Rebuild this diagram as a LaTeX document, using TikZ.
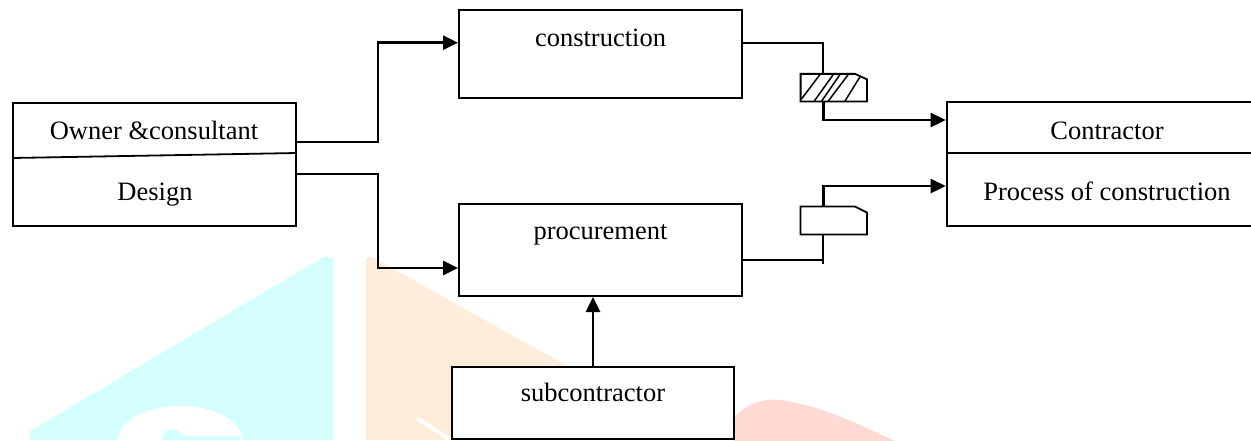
\documentclass[tikz,border=0pt]{standalone}
\usepackage{fontspec}
\setmainfont{Liberation Serif}
\usetikzlibrary{arrows.meta}
\definecolor{wmcyan}{RGB}{213,255,255}
\definecolor{wmorange}{RGB}{255,237,219}
\definecolor{wmred}{RGB}{255,217,211}
\begin{document}
\begin{tikzpicture}[x=1pt,y=-1pt,
  box/.style={draw,fill=white,line width=2pt,inner sep=0pt,rectangle},
  lbl/.style={anchor=base,inner sep=0pt,font=\fontsize{26.5}{30}\selectfont},
  conn/.style={line width=2.6pt},
  thinline/.style={line width=1.8pt},
  hatchline/.style={line width=1.5pt},
  tip/.style={-{Triangle[length=15pt,width=14pt]}},
  symb/.style={inner sep=0pt,minimum width=66,draw=none}]
\useasboundingbox (0,0) rectangle (1251,440);
\clip (0,0) rectangle (1251,440);
% watermark
\fill[wmcyan] (30,440) -- (30,431) -- (325,256) -- (333,259) -- (333,440) -- cycle;
\fill[white] (118,440) arc[start angle=180,end angle=0,x radius=62,y radius=-34] -- cycle;
\fill[wmcyan] (162,440) -- (162,436) .. controls (165,430) and (170,429) .. (173,429) .. controls (177,429) and (180,433) .. (183,436) -- (240,436) -- (240,440) -- cycle;
\fill[wmorange] (366,440) -- (366,259) -- (370,256) -- (700,440) -- cycle;
\draw[white,line width=4pt] (417,418) -- (452,441);
\fill[wmred] (734,418) .. controls (745,405) and (760,398) .. (780,400) .. controls (820,405) and (860,425) .. (895,441) -- (734,441) -- cycle;
% boxes
\node[box,minimum width=283,minimum height=123] (owner) at (154.5,164.5) {};
\node[box,minimum width=283,minimum height=88] (construction) at (600.5,54) {};
\node[box,minimum width=283,minimum height=92] (procurement) at (600.5,250) {};
\node[box,minimum width=282.6,minimum height=72] (subcontractor) at (593,403) {};
\node[box,minimum width=322,minimum height=123.4] (contractor) at (1107.7,164) {};
\draw[thinline] ([yshift=6.5pt]owner.west) -- ([yshift=11.5pt]owner.east);
\draw[thinline] ([yshift=11pt]contractor.west) -- ([yshift=11pt]contractor.east);
% texts
\node[lbl] (ownerT) at (154,139) {Owner \&consultant};
\node[lbl] (designT) at (155,200) {Design};
\node[lbl] (constrT) at (600.5,46.7) {construction};
\node[lbl] (procT) at (600.5,239) {procurement};
\node[lbl] (subT) at (593,401.7) {subcontractor};
\node[lbl] (contrT) at (1107,139) {Contractor};
\node[lbl] (processT) at (1107,200) {Process of construction};
% small symbols
\node[symb,minimum height=27.3] (hatch) at (833.8,87.7) {};
\draw[thinline,fill=white] (hatch.north west) -- ([xshift=-12pt]hatch.north east) -- ([yshift=-5.5pt]hatch.north east) -- (hatch.south east) -- (hatch.south west) -- cycle;
\draw[hatchline] (801.5,99) -- (820,74.5) (814.3,101) -- (833.3,74.5) (821.7,101) -- (840,74.5) (828.3,101) -- (848.3,74.5) (845,101) -- (860,76.8);
\node[symb,minimum height=27.6] (plain) at (833.7,220.5) {};
\draw[thinline,fill=white] (plain.north west) -- ([xshift=-12pt]plain.north east) -- ([yshift=-6pt]plain.north east) -- (plain.south east) -- (plain.south west) -- cycle;
% connectors
\draw[conn,tip] ([yshift=22.5pt]owner.east) -- ++(81,0) |- ([yshift=11.3pt]construction.west);
\draw[conn,tip] ([yshift=-9.5pt]owner.east) -- ++(81,0) |- ([yshift=-18pt]procurement.west);
\draw[thinline] ([yshift=11pt]construction.east) -| ([xshift=-10.5pt]hatch.north);
\draw[conn,tip] ([xshift=-10.5pt]hatch.south) |- ([yshift=44pt]contractor.west);
\draw[thinline] ([xshift=-10.5pt]plain.south) -- ++(0,29.7) coordinate (tick);
\draw[thinline] ([yshift=-10pt]procurement.east) -- ([yshift=-10pt]procurement.east -| tick);
\draw[conn,tip] ([xshift=-10.5pt]plain.north) |- ([yshift=-22pt]contractor.west);
\draw[conn,tip] (subcontractor.north) -- (subcontractor.north |- procurement.south);
\end{tikzpicture}
\end{document}
